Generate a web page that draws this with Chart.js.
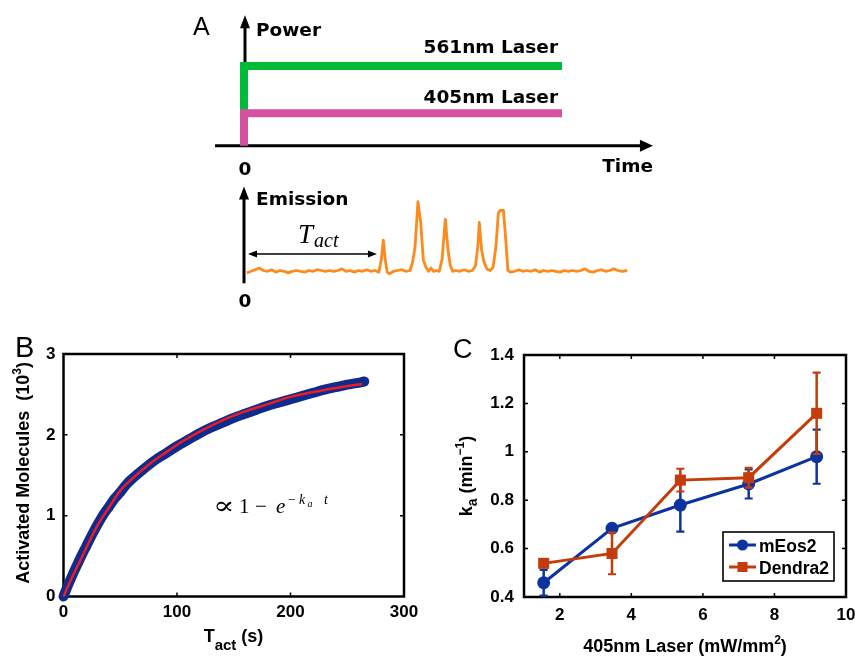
<!DOCTYPE html>
<html>
<head>
<meta charset="utf-8">
<script src="https://cdn.jsdelivr.net/npm/chart.js@4.4.1/dist/chart.umd.min.js"></script>
<style>
  html, body { margin: 0; padding: 0; background: #fff; }
  #fig { position: relative; width: 855px; height: 656px; overflow: hidden; background: #fff; }
  #fig canvas { position: absolute; left: 0; top: 0; }
</style>
</head>
<body>
<div id="fig">
  <canvas id="power" width="855" height="656"></canvas>
  <canvas id="emission" width="855" height="656"></canvas>
  <canvas id="activation" width="855" height="656"></canvas>
  <canvas id="rates" width="855" height="656"></canvas>
</div>
<script>
// ---------- Panel A: illumination scheme (arbitrary time units, lasers on from 0 to 100) ----------
const laserTime = [0, 0, 100];
const laser561Power = [1, 2.46, 2.46];
const laser405Power = [0, 1, 1];
const timeAxisRange = [-9.1, 128.6];
const powerAxisTop = 4.03;

// ---------- Panel A: fluorescence emission of a single molecule ----------
const emissionTime = [
  0.9, 2.2, 3.5, 4.8, 6.1, 7.4, 8.7, 10.0, 11.3, 12.6, 13.9, 15.2, 16.5, 17.8, 19.1, 20.4,
  21.7, 23.0, 24.3, 25.6, 26.9, 28.2, 29.5, 30.8, 32.1, 33.4, 34.7, 36.0, 37.3, 38.6, 39.9, 41.2,
  42.4, 43.2, 43.8, 44.4, 45.0, 45.8, 47.0, 48.3, 49.6, 50.9, 52.2, 53.0, 53.8, 54.7, 55.6, 56.4,
  57.2, 58.0, 58.8, 59.6, 60.4, 61.4, 62.3, 63.3, 64.2, 64.9, 65.6, 66.6, 67.9, 69.2, 70.5, 71.8,
  72.8, 73.5, 74.0, 74.7, 75.5, 76.4, 77.4, 78.3, 79.2, 80.0, 80.5, 81.6, 82.3, 83.0, 83.8,
  85.1, 86.4, 87.7, 89.0, 90.3, 91.6, 92.9, 94.2, 95.5, 96.8, 98.1, 99.4, 100.7, 102.0, 103.3,
  104.6, 105.9, 107.2, 108.5, 109.8, 111.1, 112.4, 113.7, 115.0, 116.3, 117.6, 118.9, 120.5
];
const emissionLevel = [
  0.13, 0.15, 0.17, 0.19, 0.16, 0.15, 0.17, 0.14, 0.16, 0.15, 0.13, 0.15, 0.16, 0.15, 0.14, 0.16,
  0.15, 0.17, 0.16, 0.15, 0.16, 0.15, 0.16, 0.18, 0.15, 0.16, 0.14, 0.16, 0.15, 0.17, 0.15, 0.16,
  0.14, 0.30, 0.54, 0.30, 0.14, 0.12, 0.15, 0.16, 0.17, 0.15, 0.16, 0.26, 0.46, 1.02, 0.75, 0.29,
  0.20, 0.15, 0.19, 0.15, 0.16, 0.15, 0.30, 0.80, 0.40, 0.22, 0.15, 0.16, 0.15, 0.17, 0.15, 0.16,
  0.22, 0.45, 0.76, 0.42, 0.26, 0.18, 0.16, 0.20, 0.45, 0.88, 0.91, 0.91, 0.55, 0.16, 0.14,
  0.15, 0.17, 0.15, 0.16, 0.15, 0.17, 0.14, 0.16, 0.15, 0.16, 0.15, 0.14, 0.16, 0.15, 0.16,
  0.15, 0.16, 0.18, 0.15, 0.14, 0.16, 0.17, 0.15, 0.16, 0.18, 0.16, 0.15, 0.16
];
const emissionAxisTop = 1.21;
const tActSpan = [1.26, 41.8];
const tActLevel = 0.366;

// ---------- Panel B: cumulative activated molecules (10^3) vs activation time ----------
const tActSeconds = [0, 4, 8, 12, 16, 20, 25, 30, 35, 40, 45, 50, 55, 60, 70, 80, 90, 100, 110,
  120, 130, 140, 150, 160, 170, 180, 190, 200, 210, 220, 230, 240, 250, 258, 265];
const activatedCount = [0, 0.14, 0.27, 0.39, 0.51, 0.62, 0.76, 0.89, 1.01, 1.11, 1.21, 1.29, 1.38,
  1.45, 1.57, 1.68, 1.77, 1.86, 1.94, 2.02, 2.09, 2.15, 2.21, 2.26, 2.31, 2.36, 2.40, 2.44, 2.48,
  2.52, 2.56, 2.59, 2.62, 2.64, 2.66];
const fitSeconds = [0, 5, 10, 15, 20, 30, 40, 50, 60, 75, 90, 105, 120, 140, 160, 180, 200, 220, 240, 263];
const fitCount = [0, 0.16, 0.31, 0.45, 0.60, 0.88, 1.10, 1.31, 1.45, 1.63, 1.78, 1.92, 2.04, 2.18,
  2.29, 2.38, 2.47, 2.53, 2.58, 2.63];
const activationTicksX = [0, 100, 200, 300];
const activationTicksY = [0, 1, 2, 3];
const activationLabelsX = ['0', '100', '200', '300'];
const activationLabelsY = ['0', '1', '2', '3'];

// ---------- Panel C: activation rate vs 405 nm intensity ----------
const laser405Intensity = [1.55, 3.46, 5.37, 7.28, 9.18];
const mEos2Rate = [0.459, 0.684, 0.78, 0.867, 0.98];
const mEos2Err = [0.053, 0.015, 0.11, 0.06, 0.112];
const dendra2Rate = [0.539, 0.58, 0.883, 0.893, 1.159];
const dendra2Err = [0.01, 0.086, 0.047, 0.041, 0.168];
const rateTicksX = [2, 4, 6, 8, 10];
const rateLabelsX = ['2', '4', '6', '8', '10'];
const rateTicksY = [0.4, 0.6, 0.8, 1.0, 1.2, 1.4];
const rateLabelsY = ['0.4', '0.6', '0.8', '1', '1.2', '1.4'];
const seriesNames = ['mEos2', 'Dendra2'];

// ---------- styling ----------
const SANS = "'Liberation Sans', Arial, Helvetica, sans-serif";
const SCHEME = "'DejaVu Sans', 'Liberation Sans', sans-serif";
const SERIF = "'Liberation Serif', 'DejaVu Serif', 'Times New Roman', serif";
const MATHSYM = "'DejaVu Serif', serif";
const GREEN = '#00bb38';
const PINK = '#d452a0';
const ORANGE = '#ff8a1c';
const NAVY = '#102b8e';
const RED = '#ec1c24';
const BLUE = '#0c34a0';
const RUST = '#c43c0c';

Chart.defaults.animation = false;
Chart.defaults.events = [];
Chart.defaults.color = '#000';
Chart.defaults.font.family = SANS;
Chart.defaults.plugins.legend.display = false;
Chart.defaults.plugins.tooltip.enabled = false;

function pts(xs, ys) { return xs.map((x, i) => ({ x: x, y: ys[i] })); }

function text(ctx, str, x, y, font, align) {
  ctx.save();
  ctx.font = font;
  ctx.fillStyle = '#000';
  ctx.textAlign = align || 'left';
  ctx.textBaseline = 'alphabetic';
  ctx.fillText(str, x, y);
  ctx.restore();
}

// text made of runs with their own font and baseline shift (sub/superscripts)
function richText(ctx, runs, x, y, align, angle) {
  ctx.save();
  ctx.translate(x, y);
  ctx.rotate(angle || 0);
  ctx.fillStyle = '#000';
  ctx.textAlign = 'left';
  ctx.textBaseline = 'alphabetic';
  let total = 0;
  const widths = runs.map(r => { ctx.font = r.font; const w = ctx.measureText(r.text).width; total += w; return w; });
  let cx = align === 'center' ? -total / 2 : (align === 'right' ? -total : 0);
  runs.forEach((r, i) => { ctx.font = r.font; ctx.fillText(r.text, cx, r.dy || 0); cx += widths[i]; });
  ctx.restore();
}

function arrowHead(ctx, x, y, dx, dy, len, half) {
  const bx = x - dx * len, by = y - dy * len;
  ctx.beginPath();
  ctx.moveTo(x, y);
  ctx.lineTo(bx - dy * half, by + dx * half);
  ctx.lineTo(bx + dy * half, by - dx * half);
  ctx.closePath();
  ctx.fill();
}

function hiddenScale(min, max) { return { type: 'linear', display: false, min: min, max: max }; }

function zeroPad(s) { s.paddingLeft = 0; s.paddingRight = 0; s.paddingTop = 0; s.paddingBottom = 0; }

function framedScale(min, max, tickValues, tickLabels, pad, fit) {
  return {
    type: 'linear', min: min, max: max,
    grid: { display: false, drawTicks: false },
    border: { display: false },
    afterBuildTicks: s => { s.ticks = tickValues.map(v => ({ value: v })); },
    ticks: {
      autoSkip: false, maxRotation: 0, padding: pad,
      font: { family: SANS, size: 17, weight: 'bold' },
      callback: (v, i) => tickLabels[i]
    },
    afterFit: fit
  };
}

// box around the plot area with inward tick marks on all four sides
const boxFrame = {
  id: 'boxFrame',
  beforeDatasetsDraw(chart, args, opts) {
    const { ctx, chartArea: a } = chart;
    const x = chart.scales.x, y = chart.scales.y;
    ctx.save();
    ctx.strokeStyle = '#000';
    ctx.lineWidth = opts.tickWidth;
    ctx.beginPath();
    x.ticks.forEach(t => {
      const p = x.getPixelForValue(t.value);
      if (p <= a.left + 1 || p >= a.right - 1) return;
      ctx.moveTo(p, a.bottom); ctx.lineTo(p, a.bottom - opts.tickLength);
      ctx.moveTo(p, a.top); ctx.lineTo(p, a.top + opts.tickLength);
    });
    y.ticks.forEach(t => {
      const p = y.getPixelForValue(t.value);
      if (p <= a.top + 1 || p >= a.bottom - 1) return;
      ctx.moveTo(a.left, p); ctx.lineTo(a.left + opts.tickLength, p);
      ctx.moveTo(a.right, p); ctx.lineTo(a.right - opts.tickLength, p);
    });
    ctx.stroke();
    ctx.lineWidth = opts.lineWidth;
    ctx.strokeRect(a.left, a.top, a.right - a.left, a.bottom - a.top);
    ctx.restore();
  }
};

// ================= Panel A, top: laser powers =================
new Chart(document.getElementById('power'), {
  type: 'line',
  data: {
    datasets: [
      { data: pts(laserTime, laser405Power), borderColor: PINK, borderWidth: 8, order: 0, clip: false },
      { data: pts(laserTime, laser561Power), borderColor: GREEN, borderWidth: 8, order: 1, clip: false }
    ]
  },
  options: {
    responsive: false, devicePixelRatio: 1,
    layout: { padding: { left: 244, right: 293, top: 113.3, bottom: 510.3 } },
    elements: { point: { radius: 0 }, line: { tension: 0, fill: false, borderJoinStyle: 'miter', borderCapStyle: 'butt' } },
    scales: { x: hiddenScale(0, 100), y: hiddenScale(0, 1) }
  },
  plugins: [{
    id: 'powerAxes',
    beforeDatasetsDraw(chart) {
      const { ctx } = chart;
      const x = chart.scales.x, y = chart.scales.y;
      const x0 = x.getPixelForValue(0) + 1, y0 = y.getPixelForValue(0);
      const yTop = y.getPixelForValue(powerAxisTop);
      const xs = x.getPixelForValue(timeAxisRange[0]), xe = x.getPixelForValue(timeAxisRange[1]);
      ctx.save();
      ctx.strokeStyle = '#000'; ctx.fillStyle = '#000'; ctx.lineWidth = 3;
      ctx.beginPath();
      ctx.moveTo(x0, y0); ctx.lineTo(x0, yTop + 10);
      ctx.moveTo(xs, y0); ctx.lineTo(xe - 10, y0);
      ctx.stroke();
      arrowHead(ctx, x0, yTop, 0, -1, 13, 5);
      arrowHead(ctx, xe, y0, 1, 0, 13, 6);
      ctx.restore();
    },
    afterDraw(chart) {
      const { ctx } = chart;
      const B = 'bold 18.5px ' + SCHEME;
      text(ctx, 'A', 193, 35, '25px ' + SANS);
      text(ctx, 'Power', 256, 36, B);
      text(ctx, '561nm Laser', 558, 53, B, 'right');
      text(ctx, '405nm Laser', 558, 103, B, 'right');
      text(ctx, '0', 245, 175, B, 'center');
      text(ctx, 'Time', 653, 172, B, 'right');
    }
  }]
});

// ================= Panel A, bottom: emission trace =================
// same time units as the laser scheme; the axis runs to 130 so the whole trace is in range
new Chart(document.getElementById('emission'), {
  type: 'line',
  data: {
    datasets: [
      { data: pts(emissionTime, emissionLevel), borderColor: ORANGE, borderWidth: 2.8, clip: false }
    ]
  },
  options: {
    responsive: false, devicePixelRatio: 1,
    layout: { padding: { left: 244, right: 197.6, top: 203.3, bottom: 372.7 } },
    elements: { point: { radius: 0 }, line: { tension: 0, fill: false, borderJoinStyle: 'round' } },
    scales: { x: hiddenScale(0, 130), y: hiddenScale(0, 1) }
  },
  plugins: [{
    id: 'emissionAxes',
    beforeDatasetsDraw(chart) {
      const { ctx } = chart;
      const x = chart.scales.x, y = chart.scales.y;
      const x0 = x.getPixelForValue(0), y0 = y.getPixelForValue(0);
      const yTop = y.getPixelForValue(emissionAxisTop);
      ctx.save();
      ctx.strokeStyle = '#000'; ctx.fillStyle = '#000'; ctx.lineWidth = 3;
      ctx.beginPath();
      ctx.moveTo(x0, y0); ctx.lineTo(x0, yTop + 10);
      ctx.stroke();
      arrowHead(ctx, x0, yTop, 0, -1, 13, 5);
      // activation delay
      const ya = y.getPixelForValue(tActLevel);
      const xa = x.getPixelForValue(tActSpan[0]), xb = x.getPixelForValue(tActSpan[1]);
      ctx.lineWidth = 1.5;
      ctx.beginPath();
      ctx.moveTo(xa + 6, ya); ctx.lineTo(xb - 6, ya);
      ctx.stroke();
      arrowHead(ctx, xa, ya, -1, 0, 9, 3.5);
      arrowHead(ctx, xb, ya, 1, 0, 9, 3.5);
      ctx.restore();
    },
    afterDraw(chart) {
      const { ctx } = chart;
      const B = 'bold 18.5px ' + SCHEME;
      text(ctx, 'Emission', 256, 205, B);
      text(ctx, '0', 245, 307, B, 'center');
      text(ctx, 'T', 298, 243, 'italic 27px ' + SERIF);
      text(ctx, 'act', 314, 246.5, 'italic 20px ' + SERIF);
    }
  }]
});

// ================= Panel B =================
new Chart(document.getElementById('activation'), {
  type: 'line',
  data: {
    datasets: [
      { data: pts(fitSeconds, fitCount), borderColor: RED, borderWidth: 2.5, order: 0, clip: false },
      { data: pts(tActSeconds, activatedCount), borderColor: NAVY, borderWidth: 10,
        borderCapStyle: 'round', borderJoinStyle: 'round', order: 1, clip: false }
    ]
  },
  options: {
    responsive: false, devicePixelRatio: 1,
    layout: { padding: { left: 0, top: 354, right: 451, bottom: 0 } },
    elements: { point: { radius: 0 }, line: { fill: false, cubicInterpolationMode: 'monotone' } },
    scales: {
      x: framedScale(0, 300, activationTicksX, activationLabelsX, 6, s => { s.height = 59.5; zeroPad(s); }),
      y: framedScale(0, 3, activationTicksY, activationLabelsY, 8, s => { s.width = 63.5; zeroPad(s); })
    },
    plugins: { boxFrame: { lineWidth: 2.5, tickLength: 4, tickWidth: 1.5 } }
  },
  plugins: [boxFrame, {
    id: 'activationText',
    afterDraw(chart) {
      const { ctx } = chart;
      const B18 = 'bold 18px ' + SANS;
      text(ctx, 'B', 15, 357, '29px ' + SANS);
      richText(ctx, [
        { text: 'T', font: B18 },
        { text: 'act', font: 'bold 15px ' + SANS, dy: 8 },
        { text: ' (s)', font: B18 }
      ], 233.5, 642, 'center');
      richText(ctx, [
        { text: 'Activated Molecules  (10', font: B18 },
        { text: '3', font: 'bold 12px ' + SANS, dy: -8 },
        { text: ')', font: B18 }
      ], 29, 473, 'center', -Math.PI / 2);
      // fitted law
      const M = '21px ' + SERIF, MI = 'italic 21px ' + SERIF;
      const S = '14px ' + SERIF, SI = 'italic 14px ' + SERIF;
      const base = 512.5;
      ctx.save();
      ctx.translate(213, base + 1);
      ctx.scale(1.45, 1.15);
      text(ctx, '\u221D', 0, 0, '22px ' + MATHSYM);
      ctx.restore();
      text(ctx, '1', 239, base, M);
      text(ctx, '\u2212', 255, base, M);
      text(ctx, 'e', 276, base, MI);
      text(ctx, '\u2212', 288, base - 9, S);
      text(ctx, 'k', 299, base - 9, SI);
      text(ctx, 'a', 307.5, base - 5.5, 'italic 10px ' + SERIF);
      text(ctx, 't', 324, base - 9, SI);
    }
  }]
});

// ================= Panel C =================
const errorBars = {
  id: 'errorBars',
  beforeDatasetDraw(chart, args) {
    const ds = chart.data.datasets[args.index];
    if (!ds.errorValues) return;
    const { ctx } = chart;
    const x = chart.scales.x, y = chart.scales.y;
    ctx.save();
    ctx.strokeStyle = ds.borderColor;
    ds.data.forEach((p, i) => {
      const e = ds.errorValues[i];
      const px = x.getPixelForValue(p.x);
      const top = y.getPixelForValue(p.y + e), bot = y.getPixelForValue(p.y - e);
      ctx.lineWidth = 2.5;
      ctx.beginPath();
      ctx.moveTo(px, top); ctx.lineTo(px, bot);
      ctx.stroke();
      ctx.lineWidth = 2.2;
      ctx.beginPath();
      ctx.moveTo(px - 4, top); ctx.lineTo(px + 4, top);
      ctx.moveTo(px - 4, bot); ctx.lineTo(px + 4, bot);
      ctx.stroke();
    });
    ctx.restore();
  }
};

new Chart(document.getElementById('rates'), {
  type: 'line',
  data: {
    datasets: [
      { label: seriesNames[0], data: pts(laser405Intensity, mEos2Rate), errorValues: mEos2Err,
        borderColor: BLUE, backgroundColor: BLUE, pointBorderColor: BLUE, pointBackgroundColor: BLUE,
        borderWidth: 3, pointStyle: 'circle', pointRadius: 6.5, pointBorderWidth: 0, order: 1, clip: false },
      { label: seriesNames[1], data: pts(laser405Intensity, dendra2Rate), errorValues: dendra2Err,
        borderColor: RUST, backgroundColor: RUST, pointBorderColor: RUST, pointBackgroundColor: RUST,
        borderWidth: 3, pointStyle: 'rect', pointRadius: 7.8, pointBorderWidth: 0, order: 0, clip: false }
    ]
  },
  options: {
    responsive: false, devicePixelRatio: 1,
    layout: { padding: { left: 420, top: 355, right: 9, bottom: 0 } },
    elements: { line: { tension: 0, fill: false } },
    scales: {
      x: framedScale(1, 10, rateTicksX, rateLabelsX, 8, s => { s.height = 59; zeroPad(s); }),
      y: framedScale(0.4, 1.4, rateTicksY, rateLabelsY, 10, s => { s.width = 104; zeroPad(s); })
    },
    plugins: { boxFrame: { lineWidth: 2.5, tickLength: 4, tickWidth: 1.5 } }
  },
  plugins: [boxFrame, errorBars, {
    id: 'ratesText',
    afterDraw(chart) {
      const { ctx } = chart;
      const B18 = 'bold 18px ' + SANS;
      text(ctx, 'C', 453, 358, '27px ' + SANS);
      richText(ctx, [
        { text: '405nm Laser (mW/mm', font: B18 },
        { text: '2', font: 'bold 12px ' + SANS, dy: -8 },
        { text: ')', font: B18 }
      ], 685, 652, 'center');
      richText(ctx, [
        { text: 'k', font: B18 },
        { text: 'a', font: 'bold 14px ' + SANS, dy: 5 },
        { text: ' (min', font: B18 },
        { text: '\u22121', font: 'bold 12px ' + SANS, dy: -8 },
        { text: ')', font: B18 }
      ], 472, 476, 'center', -Math.PI / 2);
      // legend
      ctx.save();
      ctx.fillStyle = '#fff';
      ctx.fillRect(723, 532, 111, 49);
      ctx.strokeStyle = '#000';
      ctx.lineWidth = 1.6;
      ctx.strokeRect(723, 532, 111, 49);
      const rows = [545, 567];
      chart.data.datasets.forEach((ds, i) => {
        const yy = rows[i];
        ctx.strokeStyle = ds.borderColor;
        ctx.fillStyle = ds.borderColor;
        ctx.lineWidth = 3;
        ctx.beginPath(); ctx.moveTo(729, yy); ctx.lineTo(756, yy); ctx.stroke();
        if (ds.pointStyle === 'circle') {
          ctx.beginPath(); ctx.arc(742.5, yy, 5.5, 0, Math.PI * 2); ctx.fill();
        } else {
          ctx.fillRect(737.5, yy - 5, 10, 10);
        }
        text(ctx, ds.label, 759, yy + 6.5, 'bold 17.5px ' + SANS);
      });
      ctx.restore();
    }
  }]
});
</script>
</body>
</html>
